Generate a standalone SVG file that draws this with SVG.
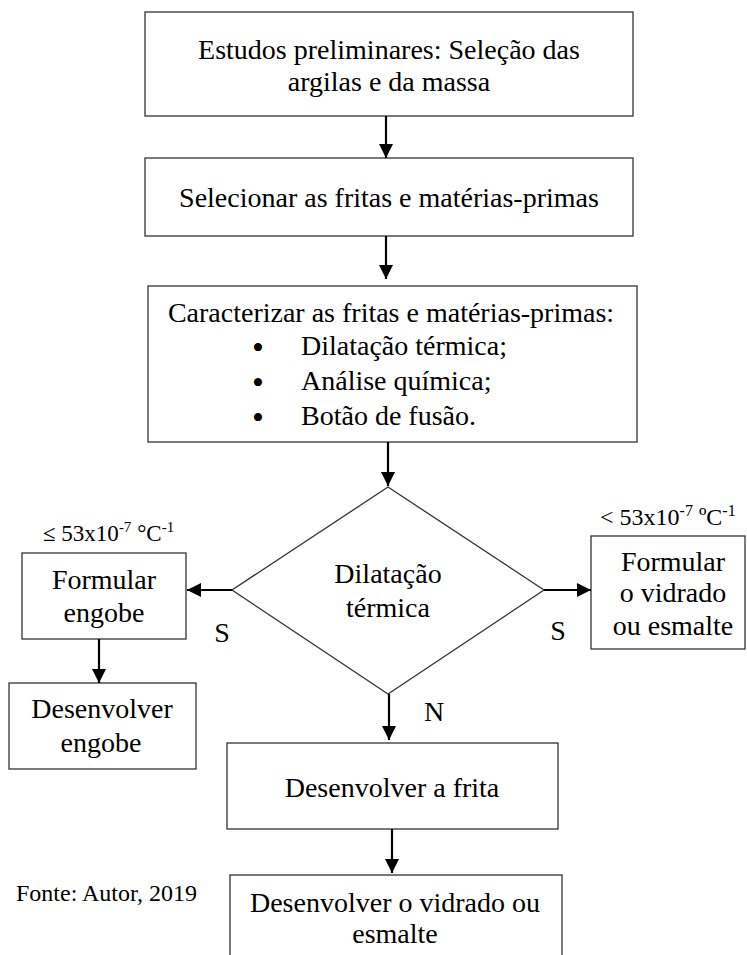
<svg xmlns="http://www.w3.org/2000/svg" width="747" height="955" viewBox="0 0 747 955">
<defs>
<style>
.box{fill:#fff;stroke:#333;stroke-width:1.3}
.conn line{stroke:#000;stroke-width:2.2;marker-end:url(#ah)}
</style>
<marker id="ah" viewBox="0 0 14 14" refX="14" refY="7" markerWidth="14" markerHeight="14" markerUnits="userSpaceOnUse" orient="auto">
<path d="M0,0 L14,7 L0,14 z" fill="#000"/>
</marker>
</defs>
<rect width="747" height="955" fill="#fff"/>

<g id="n1" font-family="Liberation Serif, serif" font-size="28" text-anchor="middle" fill="#000">
<rect class="box" x="145" y="12" width="488" height="104"/>
<text x="389" y="59">Estudos preliminares: Seleção das</text>
<text x="389" y="91">argilas e da massa</text>
</g>

<g id="n2" font-family="Liberation Serif, serif" font-size="28" text-anchor="middle" fill="#000">
<rect class="box" x="145" y="158" width="488" height="78"/>
<text x="389" y="207">Selecionar as fritas e matérias-primas</text>
</g>

<g id="n3" font-family="Liberation Serif, serif" font-size="28" fill="#000">
<rect class="box" x="148" y="286" width="489" height="156"/>
<text x="391" y="322" text-anchor="middle">Caracterizar as fritas e matérias-primas:</text>
<text x="258" y="359" text-anchor="middle" font-size="34">•</text>
<text x="301" y="355">Dilatação térmica;</text>
<text x="258" y="394" text-anchor="middle" font-size="34">•</text>
<text x="301" y="390">Análise química;</text>
<text x="258" y="429" text-anchor="middle" font-size="34">•</text>
<text x="301" y="425">Botão de fusão.</text>
</g>

<g id="n4" font-family="Liberation Serif, serif" font-size="28" text-anchor="middle" fill="#000">
<polygon class="box" points="388,487 544,590 388,694 232,590"/>
<text x="388" y="583">Dilatação</text>
<text x="388" y="617">térmica</text>
</g>

<g id="n5" font-family="Liberation Serif, serif" font-size="28" text-anchor="middle" fill="#000">
<rect class="box" x="22" y="553" width="164" height="86"/>
<text x="104" y="589">Formular</text>
<text x="104" y="622">engobe</text>
</g>

<g id="n6" font-family="Liberation Serif, serif" font-size="28" text-anchor="middle" fill="#000">
<rect class="box" x="9" y="683" width="187" height="86"/>
<text x="102" y="718">Desenvolver</text>
<text x="101" y="752">engobe</text>
</g>

<g id="n7" font-family="Liberation Serif, serif" font-size="28" text-anchor="middle" fill="#000">
<rect class="box" x="591" y="536" width="154" height="113"/>
<text x="673" y="571">Formular</text>
<text x="673" y="602">o vidrado</text>
<text x="673" y="635">ou esmalte</text>
</g>

<g id="n8" font-family="Liberation Serif, serif" font-size="28" text-anchor="middle" fill="#000">
<rect class="box" x="227" y="743" width="331" height="86"/>
<text x="392" y="797">Desenvolver a frita</text>
</g>

<g id="n9" font-family="Liberation Serif, serif" font-size="28" text-anchor="middle" fill="#000">
<rect class="box" x="230" y="875" width="332" height="100"/>
<text x="395" y="912">Desenvolver o vidrado ou</text>
<text x="395" y="943">esmalte</text>
</g>

<g id="connectors" class="conn">
<line x1="386" y1="116" x2="386" y2="158"/>
<line x1="386" y1="236" x2="386" y2="279"/>
<line x1="388" y1="442" x2="388" y2="486"/>
<line x1="232" y1="590" x2="187" y2="590"/>
<line x1="544" y1="590" x2="591" y2="590"/>
<line x1="99" y1="639" x2="99" y2="683"/>
<line x1="389" y1="694" x2="389" y2="740"/>
<line x1="392" y1="829" x2="392" y2="873"/>
</g>

<g id="labels" font-family="Liberation Serif, serif" fill="#000">
<text x="222" y="642" font-size="28" text-anchor="middle">S</text>
<text x="558" y="640" font-size="28" text-anchor="middle">S</text>
<text x="434" y="721" font-size="28" text-anchor="middle">N</text>
<text x="43" y="541" font-size="23">≤ 53x10<tspan font-size="15" dy="-9">-7</tspan><tspan dy="9"> °C</tspan><tspan font-size="15" dy="-9">-1</tspan></text>
<text x="600" y="525" font-size="24">&lt; 53x10<tspan font-size="16" dy="-9">-7</tspan><tspan dy="9"> ºC</tspan><tspan font-size="16" dy="-9">-1</tspan></text>
<text x="16" y="901" font-size="24">Fonte: Autor, 2019</text>
</g>
</svg>
